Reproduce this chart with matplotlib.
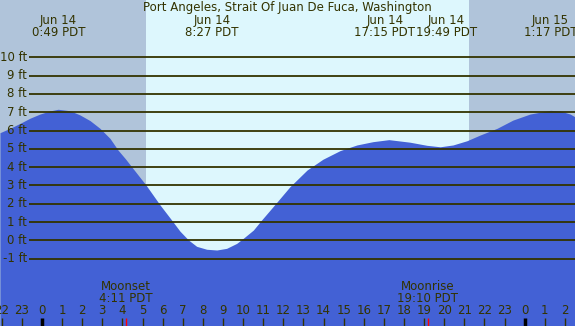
import numpy as np
import matplotlib.pyplot as plt

# tide heights (ft), hours since midnight Jun 14 (PDT)
hours = [-2.09, -1.59, -1.09, -0.6, -0.1, 0.4, 0.8, 1.39, 1.89, 2.39, 2.88, 3.38,
         3.78, 4.15, 4.52, 5.17, 5.87, 6.45, 6.86, 7.28, 7.69, 8.19, 8.69, 9.18, 9.68,
         10.01, 10.51, 10.92, 11.49, 12.33, 13.18, 13.97, 14.82, 15.66, 16.46,
         17.25, 18.3, 19.14, 19.8, 20.44, 21.13, 21.78, 22.63, 23.42, 24.27,
         25.28, 25.76, 26.26, 26.5]
height = [5.88, 6.12, 6.39, 6.67, 6.9, 7.07, 7.16, 7.08, 6.85, 6.54, 6.12, 5.57,
          4.93, 4.45, 3.93, 3.02, 1.93, 1.1, 0.5, 0.02, -0.33, -0.49, -0.53, -0.44, -0.17,
          0.11, 0.56, 1.11, 1.84, 2.93, 3.84, 4.43, 4.9, 5.21, 5.39,
          5.5, 5.36, 5.19, 5.11, 5.21, 5.44, 5.75, 6.12, 6.57, 6.9,
          7.1, 7.07, 6.9, 6.75]

# high / low tide labels
ext_hours = [0.82, 8.45, 17.25, 19.82, 25.28]
ext_dates = ['Jun 14', 'Jun 14', 'Jun 14', 'Jun 14', 'Jun 15']
ext_times = ['0:49 PDT', '8:27 PDT', '17:15 PDT', '19:49 PDT', '1:17 PDT']
ext_nudge = [0, 0, -0.2, 0.3, 0]

sunrise = 5.17
sunset = 21.23

moon_hours = [4.18, 19.17]
moon_names = ['Moonset', 'Moonrise']
moon_times = ['4:11 PDT', '19:10 PDT']

levels = list(range(-1, 11))

title = 'Port Angeles, Strait Of Juan De Fuca, Washington'

# pixel -> data helpers (chart is 575x326)
X0, PXH = 42.0, 20.11
Y0, PXF = 240.3, 18.3
def hx(p):
    return (p - X0) / PXH
def fy(p):
    return (Y0 - p) / PXF

night = '#b0c4da'
day = '#ddf7fd'
water = '#4361d5'
ink = '#333300'
fs = 8.5

fig = plt.figure(figsize=(5.75, 3.26), dpi=100)
ax = fig.add_axes([0, 0, 1, 1])
ax.set_xlim(hx(0), hx(575))
ax.set_ylim(fy(326), fy(0))
ax.axis('off')

ax.axvspan(hx(0), sunrise, color=night, lw=0)
ax.axvspan(sunrise, sunset, color=day, lw=0)
ax.axvspan(sunset, hx(575), color=night, lw=0)

ax.fill_between(hours, fy(330), height, color=water, lw=0)

for v in levels:
    ax.hlines(v, hx(29), hx(576), color=ink, lw=1.3)
    ax.text(hx(27), v, '%d ft' % v, ha='right', va='center', fontsize=fs, color=ink)

ax.text(hx(287), fy(7.5), title, ha='center', va='center', fontsize=fs, color=ink)
for h, d, t, n in zip(ext_hours, ext_dates, ext_times, ext_nudge):
    ax.text(h + n, fy(20), d, ha='center', va='center', fontsize=fs, color=ink)
    ax.text(h + n, fy(32), t, ha='center', va='center', fontsize=fs, color=ink)

for h, n, t in zip(moon_hours, moon_names, moon_times):
    ax.text(h, fy(287), n, ha='center', va='center', fontsize=fs, color=ink)
    ax.text(h, fy(299), t, ha='center', va='center', fontsize=fs, color=ink)
    ax.vlines(h, fy(318), fy(327), color='red', lw=1)

for h in range(-2, 27):
    ax.text(h, fy(311), str(h % 24), ha='center', va='center', fontsize=fs, color=ink)
    if h % 24 == 0:
        ax.vlines(h, fy(318), fy(327), color='black', lw=2.5)
    else:
        ax.vlines(h, fy(318), fy(327), color=ink, lw=1)

fig.savefig('out.png', dpi=100)
